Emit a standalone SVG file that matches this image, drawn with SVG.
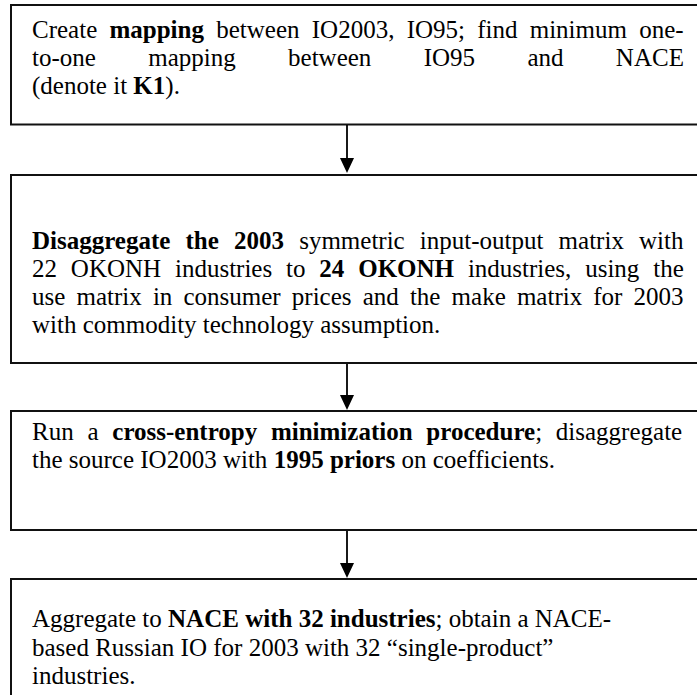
<svg xmlns="http://www.w3.org/2000/svg" width="697" height="695" viewBox="0 0 697 695">
<style>
.box{fill:#fff;stroke:#111;stroke-width:2}
.t{font-family:"Liberation Serif","Times New Roman",serif;font-size:25px;fill:#000}
.b{font-weight:bold}
.conn line{stroke:#000;stroke-width:1.8}
.conn polygon{fill:#000}
</style>
<rect width="697" height="695" fill="#fff"/>
<g id="node1">
<rect class="box" x="11" y="5" width="700" height="119.5"/>
<text class="t" x="32" y="38" word-spacing="6">Create <tspan class="b">mapping</tspan> between IO2003, IO95; find minimum one-</text>
<text class="t" x="32" y="66" word-spacing="46.1">to-one mapping between IO95 and NACE</text>
<text class="t" x="32" y="94">(denote it <tspan class="b">K1</tspan>).</text>
</g>
<g id="node2">
<rect class="box" x="11" y="175" width="700" height="188"/>
<text class="t" x="32" y="249" word-spacing="8.9"><tspan class="b">Disaggregate the 2003</tspan> symmetric input-output matrix with</text>
<text class="t" x="32" y="277" word-spacing="7.6">22 OKONH industries to <tspan class="b">24 OKONH</tspan> industries, using the</text>
<text class="t" x="32" y="305" word-spacing="4.9">use matrix in consumer prices and the make matrix for 2003</text>
<text class="t" x="32" y="333">with commodity technology assumption.</text>
</g>
<g id="node3">
<rect class="box" x="11" y="411" width="700" height="119"/>
<text class="t" x="32" y="440" word-spacing="7.5">Run a <tspan class="b">cross-entropy minimization procedure</tspan>; disaggregate</text>
<text class="t" x="32" y="468">the source IO2003 with <tspan class="b">1995 priors</tspan> on coefficients.</text>
</g>
<g id="node4">
<rect class="box" x="11" y="579" width="700" height="140"/>
<text class="t" x="32" y="627">Aggregate to <tspan class="b">NACE with 32 industries</tspan>; obtain a NACE-</text>
<text class="t" x="32" y="655.5">based Russian IO for 2003 with 32 “single-product”</text>
<text class="t" x="32" y="684">industries.</text>
</g>
<g id="connectors" class="conn">
<line x1="347" y1="125" x2="347" y2="160"/>
<polygon points="340,158 354,158 347,173"/>
<line x1="347" y1="364" x2="347" y2="397"/>
<polygon points="340,395 354,395 347,410"/>
<line x1="347" y1="531" x2="347" y2="565"/>
<polygon points="340,563 354,563 347,578"/>
</g>
</svg>
